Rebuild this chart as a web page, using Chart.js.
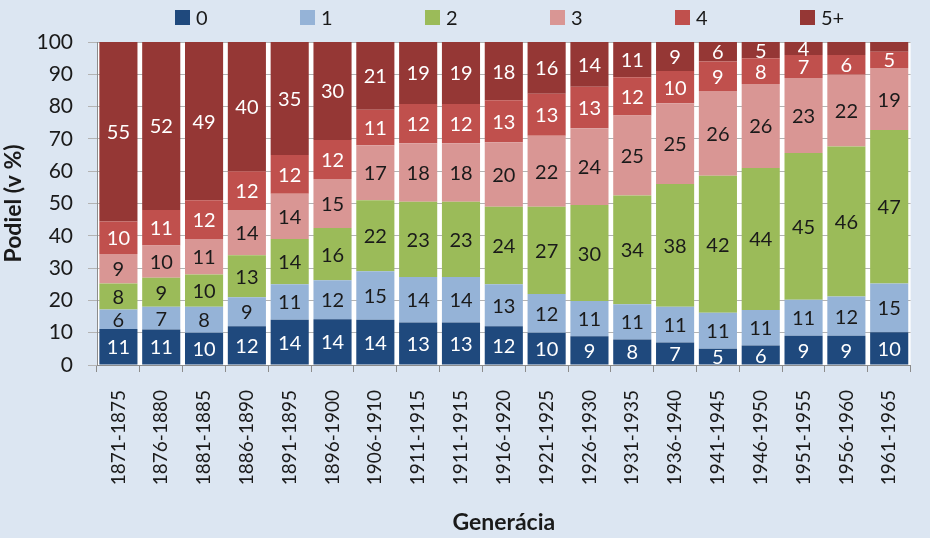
<!DOCTYPE html>
<html>
<head>
<meta charset="utf-8">
<title>Podiel podľa počtu detí</title>
<script src="https://cdn.jsdelivr.net/npm/chart.js@4.4.0/dist/chart.umd.min.js"></script>
<style>
  html, body { margin: 0; padding: 0; background: #dce6f2; }
  #wrap { position: relative; width: 930px; height: 538px; }
  #legend { position: absolute; top: 5px; left: 175px; display: flex; font-family: Lato, sans-serif; font-size: 20px; color: #1a1a1a; }
  #legend .item { width: 125px; display: flex; align-items: center; }
  #legend .box { width: 15px; height: 15px; margin-right: 6px; }
</style>
</head>
<body>
<div id="wrap">
  <canvas id="chart" width="930" height="538"></canvas>
  <div id="legend"></div>
</div>
<script>
// data
const categories = ['1871-1875', '1876-1880', '1881-1885', '1886-1890', '1891-1895', '1896-1900',
    '1906-1910', '1911-1915', '1911-1915', '1916-1920', '1921-1925', '1926-1930', '1931-1935',
    '1936-1940', '1941-1945', '1946-1950', '1951-1955', '1956-1960', '1961-1965'];
const seriesNames = ['0', '1', '2', '3', '4', '5+'];
const kids0 = [11, 11, 10, 12, 14, 14, 14, 13, 13, 12, 10, 9, 8, 7, 5, 6, 9, 9, 10];
const kids1 = [6, 7, 8, 9, 11, 12, 15, 14, 14, 13, 12, 11, 11, 11, 11, 11, 11, 12, 15];
const kids2 = [8, 9, 10, 13, 14, 16, 22, 23, 23, 24, 27, 30, 34, 38, 42, 44, 45, 46, 47];
const kids3 = [9, 10, 11, 14, 14, 15, 17, 18, 18, 20, 22, 24, 25, 25, 26, 26, 23, 22, 19];
const kids4 = [10, 11, 12, 12, 12, 12, 11, 12, 12, 13, 13, 13, 12, 10, 9, 8, 7, 6, 5];
const kids5 = [55, 52, 49, 40, 35, 30, 21, 19, 19, 18, 16, 14, 11, 9, 6, 5, 4, 4, 3];
const yTicks = [0, 10, 20, 30, 40, 50, 60, 70, 80, 90, 100];
// labels not shown in the original: [series, category]
const hiddenLabels = [[5, 17], [5, 18]];

const colors = ['#1f497d', '#95b3d7', '#9bbb59', '#d99694', '#c0504d', '#953735'];
const labelColors = ['#ffffff', '#1a1a1a', '#1a1a1a', '#1a1a1a', '#ffffff', '#ffffff'];
const allSeries = [kids0, kids1, kids2, kids3, kids4, kids5];

// 100% stacked, like the original
const totals = categories.map((c, i) => allSeries.reduce((s, arr) => s + arr[i], 0));

Chart.defaults.font.family = 'Lato, sans-serif';
Chart.defaults.color = '#1a1a1a';

// legend
const legend = document.getElementById('legend');
seriesNames.forEach((name, i) => {
    const item = document.createElement('div');
    item.className = 'item';
    item.innerHTML = '<span class="box" style="background:' + colors[i] + '"></span><span>' + name + '</span>';
    legend.appendChild(item);
});

const plotBackground = {
    id: 'plotBackground',
    beforeDraw(chart) {
        const a = chart.chartArea;
        const ctx = chart.ctx;
        ctx.save();
        ctx.fillStyle = '#ffffff';
        ctx.fillRect(a.left, a.top, a.right - a.left, a.bottom - a.top);
        ctx.restore();
    }
};

const valueLabels = {
    id: 'valueLabels',
    afterDatasetsDraw(chart) {
        const ctx = chart.ctx;
        ctx.save();
        ctx.font = '20px Lato, sans-serif';
        ctx.textAlign = 'center';
        ctx.textBaseline = 'middle';
        chart.data.datasets.forEach((ds, d) => {
            const meta = chart.getDatasetMeta(d);
            meta.data.forEach((bar, i) => {
                if (hiddenLabels.some(h => h[0] === d && h[1] === i)) return;
                ctx.fillStyle = labelColors[d];
                ctx.fillText(String(allSeries[d][i]), bar.x, (bar.y + bar.base) / 2 + 1);
            });
        });
        ctx.restore();
    }
};

new Chart(document.getElementById('chart'), {
    type: 'bar',
    data: {
        labels: categories,
        datasets: seriesNames.map((name, d) => ({
            label: name,
            data: allSeries[d].map((v, i) => v / totals[i] * 100),
            backgroundColor: colors[d],
            borderWidth: 0,
            barPercentage: 0.89,
            categoryPercentage: 1
        }))
    },
    options: {
        responsive: false,
        animation: false,
        layout: { padding: { top: 42, right: 0, left: 0, bottom: 0 } },
        plugins: {
            legend: { display: false },
            tooltip: { enabled: false }
        },
        scales: {
            x: {
                stacked: true,
                offset: true,
                grid: { offset: true, drawOnChartArea: false, color: '#8c8c8c', tickLength: 7 },
                border: { color: '#8c8c8c' },
                ticks: { font: { size: 19 }, minRotation: 90, maxRotation: 90, padding: 18, autoSkip: false },
                title: { display: true, text: 'Generácia', font: { size: 23, weight: 'bold' }, padding: { top: 0, bottom: 2 } },
                afterFit(scale) { scale.height = 173; }
            },
            y: {
                stacked: true,
                min: 0,
                max: 100,
                afterBuildTicks(scale) { scale.ticks = yTicks.map(v => ({ value: v })); },
                grid: { color: '#b3b3b3', tickLength: 9 },
                border: { color: '#8c8c8c' },
                ticks: { font: { size: 21 }, padding: 15 },
                title: { display: true, text: 'Podiel (v %)', font: { size: 23, weight: 'bold' }, padding: { top: 0, bottom: 8 } },
                afterFit(scale) { scale.width = 97; }
            }
        }
    },
    plugins: [plotBackground, valueLabels]
});
</script>
</body>
</html>
